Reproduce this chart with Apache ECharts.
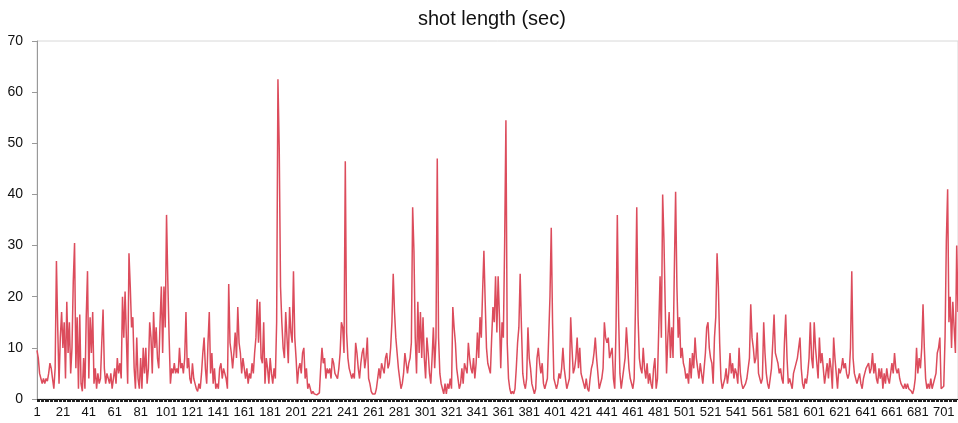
<!DOCTYPE html>
<html>
<head>
<meta charset="utf-8">
<script src="https://cdn.jsdelivr.net/npm/echarts@6/dist/echarts.min.js"></script>
<style>
  html, body { margin: 0; padding: 0; background: #fff; }
  #chart { width: 958px; height: 423px; }
</style>
</head>
<body>
<div id="chart"></div>
<script>
// shot length per shot (seconds)
const shotLengths = [
  9.5, 8, 5, 4, 3, 4, 3, 4, 3.5, 5,
  7, 6, 4, 2, 6, 27, 14, 3, 12, 17,
  10, 15, 4, 19, 9, 15, 5, 10, 23, 30.5,
  6, 16, 2, 16.5, 3, 1.5, 8, 2, 16, 25,
  4, 16, 9, 17, 3, 6, 2, 5, 3, 4,
  11, 17.5, 6, 3, 5, 4, 3, 5, 2, 4,
  6, 3, 8, 5, 7, 4, 20, 12, 21, 12,
  3, 28.5, 22, 14, 16, 6, 2, 12, 4, 2,
  8, 2, 10, 5, 10, 3, 6, 15, 12, 5,
  17, 10, 14, 8, 6, 15, 22, 9, 22, 14,
  36, 23, 12, 3, 6, 5, 7, 5, 6, 5,
  10, 6, 7, 5, 8, 17, 6, 8, 4, 3,
  7, 4, 3, 2, 1.5, 3, 2, 5, 9, 12,
  6, 3, 11, 17, 5, 9, 3, 6, 2, 3,
  2, 6, 7, 4, 6, 5, 4, 2, 22.5, 11,
  9, 6, 9, 13, 8, 18, 11, 9, 5, 8,
  6, 4, 6, 3, 5, 4, 7, 5, 9, 12,
  19.5, 11, 19, 8, 7, 15, 3, 8, 6, 3,
  8, 5, 3, 6, 4, 15, 62.5, 49, 22, 15,
  10, 8, 17, 12, 7, 18, 13, 11, 25, 12,
  8, 3, 6, 7, 5, 9, 10, 4, 6, 2,
  3, 2, 1, 1.5, 1, 1, 0.8, 1, 1.2, 6,
  10, 7, 8, 4, 6, 5, 6, 4, 8, 7,
  5, 5, 4, 6, 9, 15, 14, 9, 46.5, 13,
  8, 6, 5, 4, 5, 4, 11, 9, 6, 4,
  7, 9, 10, 6, 8, 12, 4, 3, 1.5, 1,
  0.8, 1, 2, 4, 6, 4, 7, 6, 5, 8,
  9, 6, 7, 10, 15, 24.5, 17, 12, 9, 6,
  4, 2, 3, 5, 9, 7, 5, 7, 8, 11,
  37.5, 29, 12, 5, 19, 9, 17, 8, 16, 8,
  4, 12, 9, 5, 3, 8, 14, 6, 12, 47,
  12, 5, 3, 2, 1, 3, 1, 3, 2, 4,
  2, 18, 14, 11, 6, 4, 2, 3, 6, 3,
  7, 6, 5, 11, 8, 6, 5, 8, 4, 7,
  13, 8, 16, 12, 21, 29, 19, 10, 7, 6,
  5, 12, 18, 15, 24, 13, 24, 16, 6, 15,
  12, 30, 54.5, 11, 4, 2, 1, 1.5, 1, 2,
  6, 11, 14, 24.5, 14, 5, 3, 2, 4, 14,
  8, 6, 3, 2, 1, 2, 8, 10, 7, 5,
  7, 3, 2, 2, 4, 12, 20, 33.5, 15, 4,
  3, 2, 3, 5, 4, 6, 10, 6, 4, 2,
  3, 4, 16, 10, 5, 6, 8, 12, 6, 10,
  5, 4, 3, 2, 4, 2, 1.5, 4, 6, 7,
  9, 12, 8, 5, 2, 3, 4, 6, 15, 12,
  11, 12, 8, 9, 10, 4, 2, 14, 36, 16,
  5, 2, 4, 6, 8, 14, 10, 6, 4, 3,
  2, 4, 18, 37.5, 16, 8, 6, 5, 10, 6,
  4, 7, 3, 5, 3, 2, 6, 8, 2, 4,
  14, 24, 12, 40, 31, 18, 5, 12, 17, 8,
  14, 8, 25, 40.5, 22, 12, 16, 8, 10, 7,
  6, 4, 5, 3, 8, 4, 9, 6, 12, 8,
  6, 4, 7, 5, 3, 6, 9, 14, 15, 10,
  8, 7, 3, 12, 16, 28.5, 22, 11, 4, 2,
  3, 4, 6, 3, 5, 9, 5, 7, 4, 6,
  5, 3, 10, 5, 3, 2, 2, 3, 4, 4,
  8, 18.5, 12, 10, 7, 8, 13, 5, 4, 3,
  4, 15, 9, 5, 3, 2, 4, 6, 11, 16.5,
  9, 8, 7, 5, 6, 4, 3, 11, 16.5, 8,
  3, 4, 4, 2, 5, 6, 6, 8, 10, 12,
  6, 3, 2, 4, 3, 5, 8, 15, 8, 6,
  15, 10, 7, 4, 12, 7, 9, 9, 3, 5,
  7, 4, 8, 6, 2, 12, 8, 5, 2, 6,
  5, 6, 8, 6, 7, 5, 4, 5, 10, 25,
  8, 5, 4, 3, 4, 5, 3, 2, 4, 5,
  6, 6.5, 7, 5, 6, 9, 5, 7, 4, 3,
  6, 4, 6, 2, 5, 3, 6, 4, 3, 5,
  7, 5, 9, 6, 5, 6, 4, 3, 3, 2,
  3, 2, 3, 2, 2, 1.5, 1, 2, 4, 10,
  5, 8, 6, 10, 18.5, 10, 4, 2, 3, 2,
  4, 2, 3, 4, 5, 9, 10, 12, 2, 2,
  2.5, 12, 31, 41, 15, 20, 10, 19, 14, 9,
  30, 17
]

// shot numbers on the x axis
let shotNumbers = []
for (let i = 0; i < shotLengths.length; i++) {
    shotNumbers.push(String(i + 1))
}

const yMin = 0
const yMax = 70
const yStep = 10

let chart = echarts.init(document.querySelector('#chart'))

let option = {
    animation: false,
    graphic: [
        {
            type: 'text',
            left: 418,
            top: 9,
            style: {
                text: 'shot length (sec)',
                font: '20px "Liberation Sans"',
                fill: '#111'
            }
        }
    ],
    grid: {
        left: 37,
        right: 0,
        top: 41,
        bottom: 24,
        show: true,
        borderColor: '#d8d8d8',
        borderWidth: 1
    },
    xAxis: {
        type: 'category',
        data: shotNumbers,
        boundaryGap: false,
        axisLine: { lineStyle: { color: '#111', width: 1 } },
        axisTick: {
            interval: 0,
            length: 3,
            lineStyle: { color: '#222' }
        },
        axisLabel: {
            interval: 19,
            fontFamily: 'Liberation Sans',
            fontSize: 13,
            color: '#111',
            margin: 7
        },
        splitLine: { show: false }
    },
    yAxis: {
        type: 'value',
        min: yMin,
        max: yMax,
        interval: yStep,
        axisLine: { show: true, lineStyle: { color: '#999' } },
        axisTick: { show: true, length: 5, lineStyle: { color: '#999' } },
        axisLabel: {
            fontFamily: 'Liberation Sans',
            fontSize: 14,
            color: '#111',
            margin: 14
        },
        splitLine: { show: false }
    },
    series: [
        {
            type: 'line',
            data: shotLengths,
            symbol: 'none',
            lineStyle: { color: '#dc4c5c', width: 1.5 }
        }
    ]
}

chart.setOption(option)
</script>
</body>
</html>
